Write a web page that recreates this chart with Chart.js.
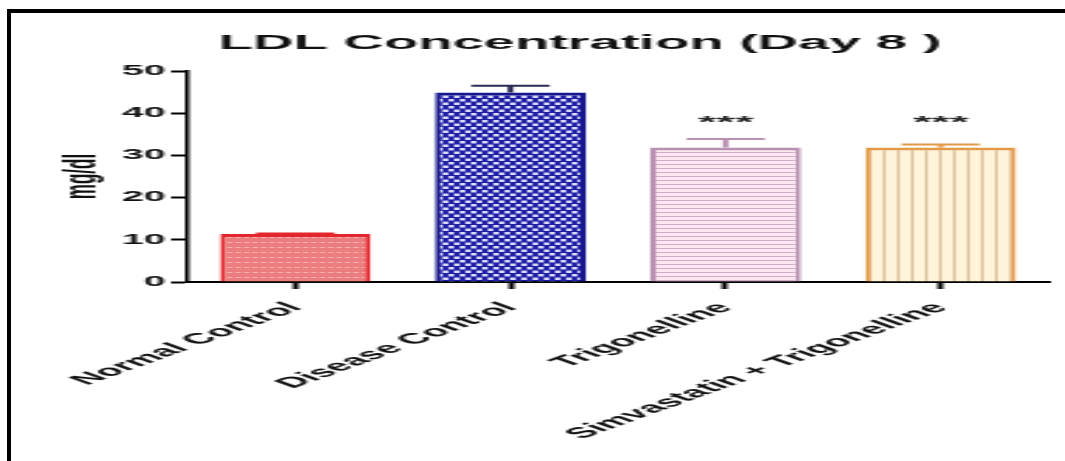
<!DOCTYPE html>
<html>
<head>
<meta charset="utf-8">
<script src="https://cdn.jsdelivr.net/npm/chart.js@4"></script>
<style>
  html, body { margin: 0; padding: 0; background: #fff; overflow: hidden; }
  #page { position: relative; width: 1065px; height: 461px; overflow: hidden; background: #fff; }
  /* the figure is laid out narrow and widened horizontally as a whole */
  #stretch { position: absolute; left: 0; top: 0; width: 380px; height: 461px;
             transform: scaleX(2.8026); transform-origin: 0 0; }
  #frame { position: absolute; left: 7px; top: 9px; right: -20px; bottom: -20px;
           border-left: 4px solid #000; border-top: 4px solid #000; }
</style>
</head>
<body>
<div id="page">
  <div id="stretch"><canvas id="c" width="380" height="461"></canvas></div>
  <div id="frame"></div>
</div>
<script>
// LDL concentration on day 8, mean and SEM per group (mg/dl)
const groups = ['Normal Control', 'Disease Control', 'Trigonelline', 'Simvastatin + Trigonelline'];
const ldlMean = [11.4, 44.9, 31.9, 31.9];
const ldlSem = [0.1, 1.6, 2.0, 0.7];
const significance = ['', '', '***', '***'];
const starLevel = 38.6;
const yTicks = [0, 10, 20, 30, 40, 50];

const FONT = '"Liberation Sans", Arial, Helvetica, sans-serif';
const canvas = document.getElementById('c');
const ctx0 = canvas.getContext('2d');

function makePattern(w, h, draw) {
  const t = document.createElement('canvas');
  t.width = w; t.height = h;
  draw(t.getContext('2d'));
  return ctx0.createPattern(t, 'repeat');
}

const fills = [
  makePattern(3, 5, g => {            // fine dotted red
    g.fillStyle = '#ec7d7e'; g.fillRect(0, 0, 3, 5);
    g.fillStyle = '#f6b0b0'; g.fillRect(0, 2, 2, 1);
  }),
  makePattern(4, 7, g => {            // blue checker
    g.fillStyle = '#1f1fa6'; g.fillRect(0, 0, 4, 7);
    g.fillStyle = '#dcdcfa';
    g.fillRect(0, 1, 2, 2.5);
    g.fillRect(2, 4.5, 2, 2.5);
  }),
  makePattern(1, 4, g => {            // horizontal pink lines
    g.fillStyle = '#fde7f1'; g.fillRect(0, 0, 1, 4);
    g.fillStyle = '#d2abc6'; g.fillRect(0, 0, 1, 1);
  }),
  makePattern(5, 1, g => {            // vertical tan lines
    g.fillStyle = '#fff4da'; g.fillRect(0, 0, 5, 1);
    g.fillStyle = '#dbc29e'; g.fillRect(0, 0, 1, 1);
  })
];
const edges = ['#e2262c', '#16168e', '#b890b1', '#e39a46'];
const whiskers = ['#e2262c', '#2a2a55', '#b890b1', '#e39a46'];

const overlay = {
  id: 'overlay',
  afterDatasetsDraw(chart) {
    const ctx = chart.ctx;
    const y = chart.scales.y;
    const meta = chart.getDatasetMeta(0);
    ctx.save();
    meta.data.forEach((bar, i) => {
      const yTop = y.getPixelForValue(ldlMean[i] + ldlSem[i]);
      const yBase = y.getPixelForValue(ldlMean[i]);
      const half = bar.width * 0.26;
      ctx.strokeStyle = whiskers[i];
      ctx.lineWidth = 2;
      ctx.beginPath();
      ctx.moveTo(bar.x, yBase);
      ctx.lineTo(bar.x, yTop);
      ctx.moveTo(bar.x - half, yTop);
      ctx.lineTo(bar.x + half, yTop);
      ctx.stroke();
      if (significance[i]) {
        ctx.fillStyle = '#222';
        ctx.font = 'bold 17px ' + FONT;
        ctx.textAlign = 'center';
        ctx.textBaseline = 'alphabetic';
        ctx.fillText(significance[i], bar.x, y.getPixelForValue(starLevel) + 9);
      }
    });
    ctx.restore();
  },
  afterDraw(chart) {
    const ctx = chart.ctx;
    ctx.save();
    ctx.fillStyle = '#111';
    ctx.font = 'bold 20px ' + FONT;
    ctx.textAlign = 'center';
    ctx.textBaseline = 'middle';
    ctx.fillText('LDL Concentration (Day 8 )', 207, 43);
    ctx.restore();
  }
};

new Chart(canvas, {
  type: 'bar',
  data: {
    labels: groups,
    datasets: [{
      data: ldlMean,
      backgroundColor: fills,
      borderColor: edges,
      borderWidth: { top: 3, left: 2, right: 2, bottom: 0 },
      borderSkipped: 'start',
      barPercentage: 0.70,
      categoryPercentage: 1.0
    }]
  },
  options: {
    responsive: false,
    animation: false,
    devicePixelRatio: 1,
    layout: { padding: { top: 71, right: 6, bottom: 0, left: 0 } },
    plugins: { legend: { display: false }, tooltip: { enabled: false }, title: { display: false } },
    scales: {
      x: {
        grid: { offset: false, drawOnChartArea: false, drawTicks: true, tickLength: 7, tickWidth: 2, tickColor: '#000' },
        border: { display: true, color: '#000', width: 2 },
        ticks: {
          autoSkip: false, minRotation: 45, maxRotation: 45, padding: 10,
          color: '#111', font: { family: FONT, weight: 'bold', size: 15 }
        },
        afterFit(scale) { scale.height = 179; }
      },
      y: {
        min: yTicks[0], max: yTicks[yTicks.length - 1],
        afterBuildTicks(scale) { scale.ticks = yTicks.map(v => ({ value: v })); },
        grid: { drawOnChartArea: false, drawTicks: true, tickLength: 6, tickWidth: 2, tickColor: '#000' },
        border: { display: true, color: '#000', width: 1.5 },
        ticks: { padding: 2, color: '#111', font: { family: FONT, weight: 'bold', size: 14 } },
        title: {
          display: true, text: 'mg/dl', color: '#111',
          font: { family: FONT, weight: 'bold', size: 17 },
          padding: { top: 19, bottom: 0 }
        },
        afterFit(scale) { scale.width = 67; }
      }
    }
  },
  plugins: [overlay]
});
</script>
</body>
</html>
